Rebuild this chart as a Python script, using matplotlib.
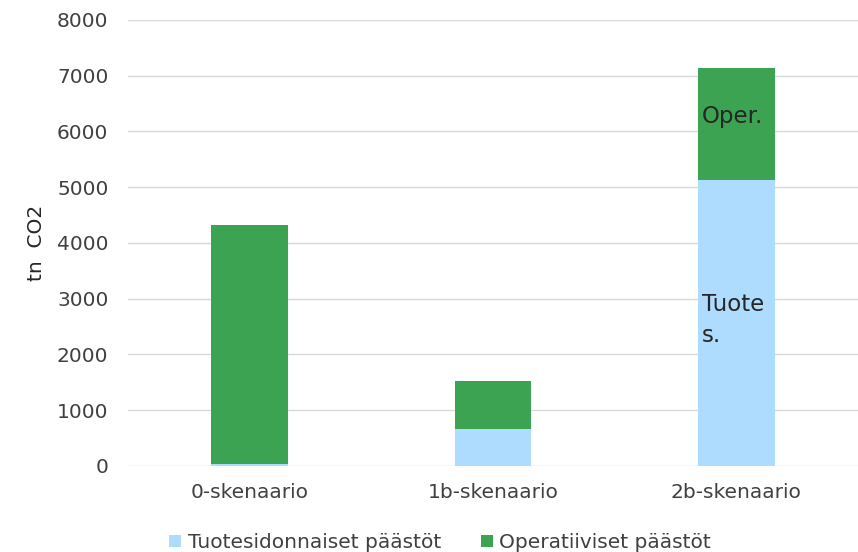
import matplotlib
matplotlib.use("Agg")
import matplotlib.pyplot as plt
import numpy as np

categories = ["0-skenaario", "1b-skenaario", "2b-skenaario"]
tuote = [30, 665, 5130]
oper = [4295, 860, 2010]
series_names = ["Tuotesidonnaiset päästöt", "Operatiiviset päästöt"]

c_tuote = "#ADDCFF"
c_oper = "#3BA351"

plt.rcParams['font.family'] = ['DejaVu Sans']

fig = plt.figure(figsize=(8.58, 5.52), dpi=100)
ax = fig.add_axes([0.149, 0.156, 0.851, 0.808])

x = np.arange(len(categories))
w = 0.315
ax.bar(x, tuote, w, color=c_tuote, label=series_names[0], zorder=3)
ax.bar(x, oper, w, bottom=tuote, color=c_oper, label=series_names[1], zorder=3)

ax.set_xlim(-0.5, 2.5)
ax.set_ylim(0, 8000)
ax.set_yticks(range(0, 8001, 1000))
ax.set_xticks(x)
ax.set_xticklabels(categories)
ax.tick_params(axis='both', length=0, labelsize=14.5, labelcolor="#404040")
ax.tick_params(axis='y', pad=14)
ax.tick_params(axis='x', pad=12)
ax.grid(axis='y', color="#D9D9D9", lw=1, zorder=0)
for s in ax.spines.values():
    s.set_visible(False)

ax.set_ylabel("tn  CO2", fontsize=14.5, color="#262626", labelpad=8)

# labels inside last bar
ax.text(x[2] - w / 2 + 0.015, 6260, "Oper.", fontsize=16.5,
        color="#262626", ha="left", va="center", zorder=4)
ax.text(x[2] - w / 2 + 0.015, 2620, "Tuote\ns.", fontsize=16.5,
        color="#262626", ha="left", va="center", linespacing=1.45, zorder=4)

leg = fig.legend(loc="lower center", bbox_to_anchor=(0.513, -0.033), ncol=2,
                 frameon=False, fontsize=14.5, handlelength=0.6, handleheight=0.6,
                 columnspacing=2.0, handletextpad=0.3)
for t in leg.get_texts():
    t.set_color("#404040")

fig.savefig("out.png", dpi=100)
